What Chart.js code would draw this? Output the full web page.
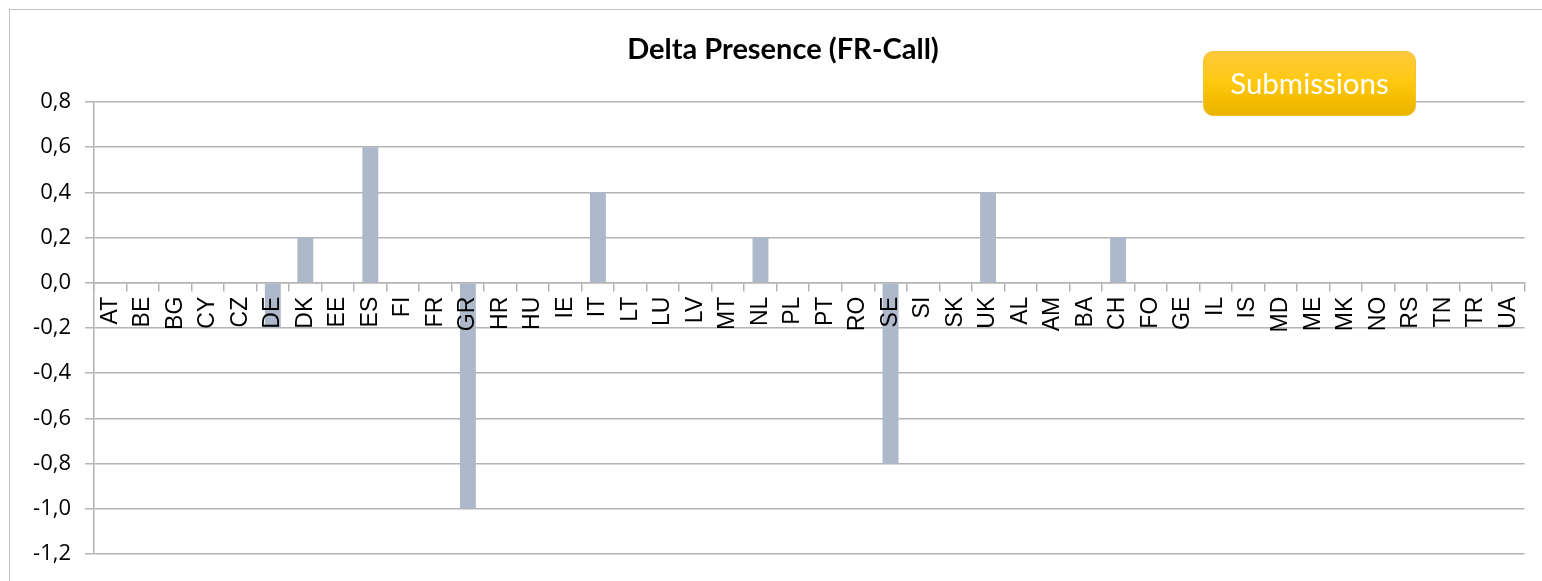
<!DOCTYPE html>
<html><head><meta charset="utf-8">
<script src="https://cdn.jsdelivr.net/npm/chart.js@4/dist/chart.umd.min.js"></script>
<style>
html,body{margin:0;padding:0;background:#fff;}
#wrap{position:relative;width:1542px;height:581px;overflow:hidden;background:#fff;}
#frame{position:absolute;left:9px;top:9px;width:1600px;height:700px;border:1.5px solid #c4c4c4;box-sizing:border-box;}
#c{position:absolute;left:0;top:0;}
#title{position:absolute;left:583px;width:400px;top:30.5px;line-height:34.8px;text-align:center;
 font-family:Lato,"Open Sans",sans-serif;font-weight:bold;font-size:29px;color:#000;white-space:nowrap;}
#btn{position:absolute;left:1203px;top:51px;width:213px;height:65px;box-sizing:border-box;border-radius:10px;
 border:1px solid #f3c233;background:linear-gradient(to bottom,#ffc93e 0%,#ffc913 45%,#f4bd00 75%,#ebb500 100%);
 color:#fff;font-family:Lato,"Open Sans",sans-serif;font-size:29.5px;display:flex;align-items:center;justify-content:center;padding-bottom:2px;}
</style></head>
<body>
<div id="wrap">
<div id="frame"></div>
<canvas id="c" width="1542" height="581"></canvas>
<div id="title"></div>
<div id="btn">Submissions</div>
</div>
<script>
const categories = ["AT","BE","BG","CY","CZ","DE","DK","EE","ES","FI","FR","GR","HR","HU","IE","IT","LT","LU","LV","MT","NL","PL","PT","RO","SE","SI","SK","UK","AL","AM","BA","CH","FO","GE","IL","IS","MD","ME","MK","NO","RS","TN","TR","UA"];
const deltaPresence = [0,0,0,0,0,-0.2,0.2,0,0.6,0,0,-1.0,0,0,0,0.4,0,0,0,0,0.2,0,0,0,-0.8,0,0,0.4,0,0,0,0.2,0,0,0,0,0,0,0,0,0,0,0,0];
const yMin = -1.2, yMax = 0.8, yStep = 0.2;
const chartTitle = "Delta Presence (FR-Call)";

document.getElementById('title').textContent = chartTitle;

const gridColor = '#b4b4b4';
new Chart(document.getElementById('c'), {
  type: 'bar',
  data: {
    labels: categories,
    datasets: [{
      label: chartTitle,
      data: deltaPresence,
      backgroundColor: '#adb9cb',
      borderWidth: 0,
      barPercentage: 0.49,
      categoryPercentage: 1.0
    }]
  },
  options: {
    responsive: false,
    animation: false,
    layout: { padding: { left: 0, top: 102, right: 14, bottom: 25.7 } },
    plugins: {
      legend: { display: false },
      tooltip: { enabled: false },
      title: { display: false }
    },
    scales: {
      x: {
        type: 'category',
        position: { y: 0 },
        offset: true,
        afterFit: s => { s.height = 0; },
        grid: { display: true, drawOnChartArea: false, drawTicks: true, tickLength: 8, color: gridColor, lineWidth: 1.5, offset: true },
        border: { display: true, color: gridColor, width: 1.5 },
        ticks: {
          z: 1,
          autoSkip: false, minRotation: 90, maxRotation: 90, padding: 6, color: '#000',
          font: { family: '"Liberation Sans", Arial, sans-serif', size: 23 }
        }
      },
      y: {
        min: yMin, max: yMax,
        afterFit: s => { s.width = 94; },
        grid: { color: gridColor, lineWidth: 1.5, drawTicks: true, tickLength: 9 },
        border: { display: true, color: gridColor, width: 1.5 },
        ticks: {
          stepSize: yStep, padding: 14, color: '#000',
          font: { family: '"Open Sans", sans-serif', size: 22 },
          callback: v => (Math.abs(v) < 1e-9 ? 0 : v).toFixed(1).replace('.', ',')
        }
      }
    }
  }
});
</script>
</body></html>
